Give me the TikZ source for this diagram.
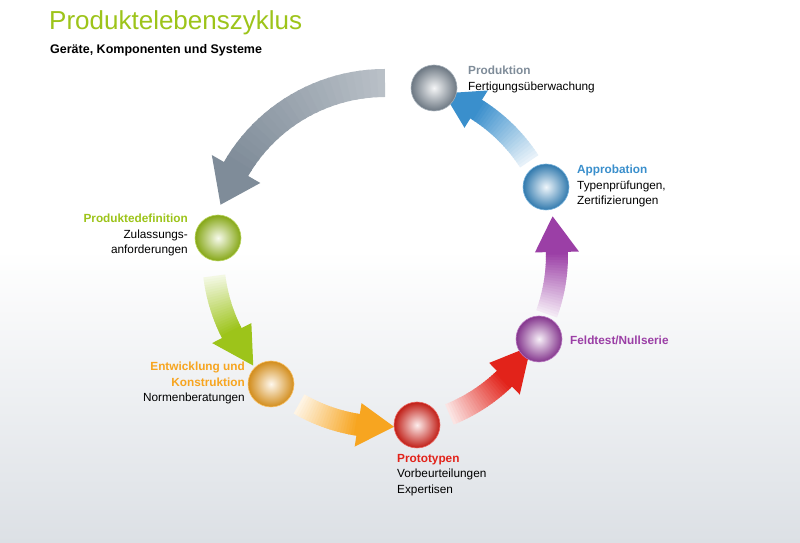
\documentclass[tikz,border=0pt]{standalone}
\usepackage{fontspec}
\setmainfont{Liberation Sans}
\usetikzlibrary{calc}
\begin{document}
\begin{tikzpicture}[x=1pt,y=1pt,
  lbl/.style={inner sep=0pt,font=\fontsize{11.8}{15.5}\selectfont},
  sphere/.style={circle,minimum size=46pt,inner sep=0pt,inner color=#1!8!white,outer color=#1!85!black,draw=#1!70!white,line width=0.6pt}]
\definecolor{cgray}{HTML}{7F8C99}
\definecolor{cgreen}{HTML}{9DC41A}
\definecolor{corange}{HTML}{F7A520}
\definecolor{cred}{HTML}{E2231A}
\definecolor{cpurple}{HTML}{9B3FA6}
\definecolor{cblue}{HTML}{3A8FCC}
\definecolor{bgbot}{HTML}{DCE0E5}
\useasboundingbox (0,0) rectangle (800,543);
\fill[white] (0,293) rectangle (800,543);
\shade[top color=white,bottom color=bgbot] (0,0) rectangle (800,293);
\coordinate (C) at (385,288);
\newcommand{\ringarrow}[6]{%
  \foreach \i in {0,...,23}{%
    \pgfmathsetmacro{\aa}{#1+(#2-#1)*\i/24}%
    \pgfmathsetmacro{\ab}{#1+(#2-#1)*(\i+1.3)/24}%
    \pgfmathsetmacro{\pp}{#6+(100-#6)*\i/23}%
    \draw[line width=#5pt,#4!\pp!white] ($(C)+(\aa:172pt)$) arc[start angle=\aa,end angle=\ab,radius=172pt];
  }%
  \fill[#4] ($(C)+(#2:{172+#5})$) -- ($(C)+(#3:172pt)$) -- ($(C)+(#2:{172-#5})$) -- cycle;
}
\ringarrow{90}{150}{163}{cgray}{28}{55}
\ringarrow{187}{207}{220}{cgreen}{22}{12}
\ringarrow{240}{261}{273}{corange}{22}{12}
\ringarrow{292}{314}{328}{cred}{22}{12}
\ringarrow{-20}{1}{13}{cpurple}{22}{12}
\ringarrow{33}{58}{70}{cblue}{22}{12}
\node[sphere=cgray] (prod) at (434,455) {};
\node[sphere=cblue] (appr) at (546,356) {};
\node[sphere=cpurple] (feld) at (539,204) {};
\node[sphere=cred] (proto) at (417,118) {};
\node[sphere=corange] (entw) at (271,159) {};
\node[sphere=cgreen] (pdef) at (218,305) {};
\node[anchor=base west,inner sep=0pt,text=cgreen,font=\fontsize{26}{26}\selectfont] (title) at (49,513) {Produktelebenszyklus};
\node[anchor=base west,inner sep=0pt,font=\bfseries\fontsize{12.5}{14}\selectfont] (sub) at (50,489) {Geräte, Komponenten und Systeme};
\node[lbl,anchor=north west,align=left] (lprod) at (468,477) {\textcolor{cgray}{\bfseries Produktion}\\Fertigungsüberwachung};
\node[lbl,anchor=north west,align=left] (lappr) at (577,378) {\textcolor{cblue}{\bfseries Approbation}\\Typenprüfungen,\\Zertifizierungen};
\node[lbl,anchor=west] (lfeld) at (570,203) {\textcolor{cpurple}{\bfseries Feldtest/Nullserie}};
\node[lbl,anchor=north west,align=left] (lproto) at (397,89) {\textcolor{cred}{\bfseries Prototypen}\\Vorbeurteilungen\\Expertisen};
\node[lbl,anchor=north east,align=right] (lentw) at (245,181) {\textcolor{corange}{\bfseries Entwicklung und}\\\textcolor{corange}{\bfseries Konstruktion}\\Normenberatungen};
\node[lbl,anchor=north east,align=right] (lpdef) at (188,329) {\textcolor{cgreen}{\bfseries Produktedefinition}\\Zulassungs-\\anforderungen};
\end{tikzpicture}
\end{document}
